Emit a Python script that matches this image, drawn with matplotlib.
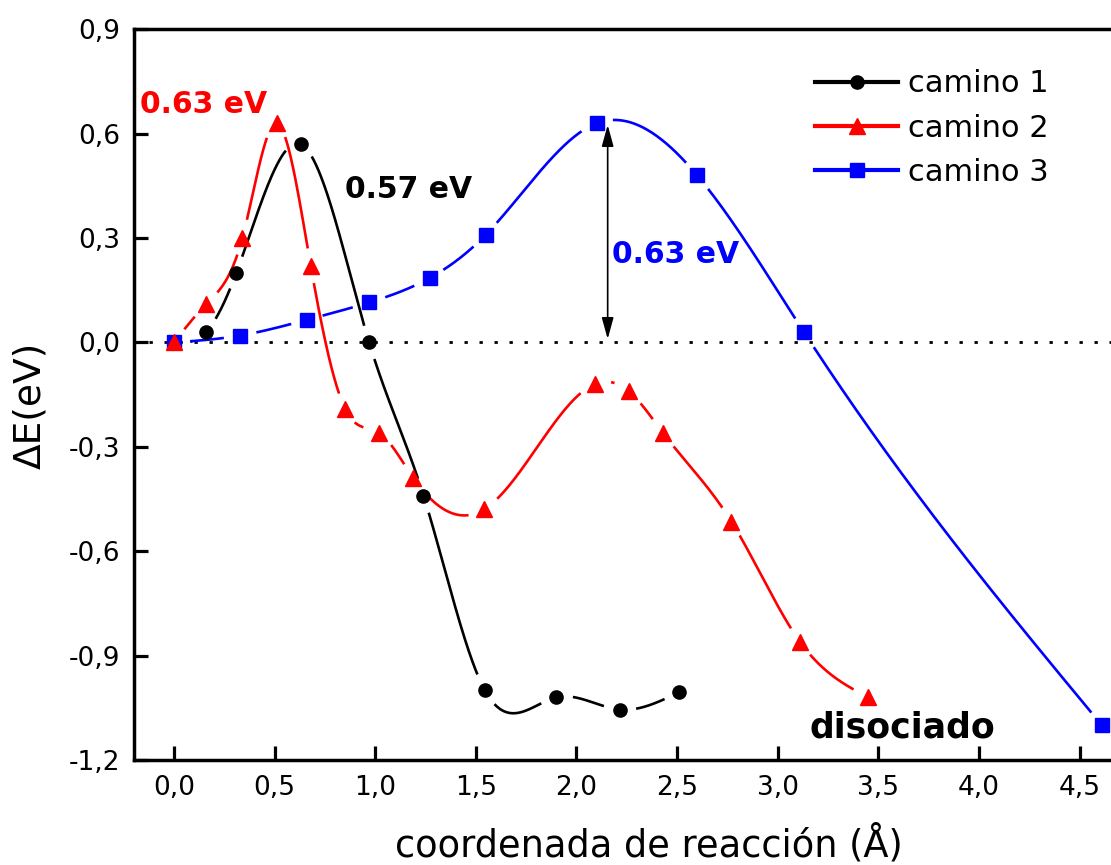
import numpy as np
import matplotlib
matplotlib.use("Agg")
import matplotlib.pyplot as plt
from matplotlib.lines import Line2D

# Reaction-coordinate energy profiles (Å, eV)
x1 = [0.0, 0.16, 0.31, 0.63, 0.97, 1.24, 1.545, 1.90, 2.215, 2.51]
y1 = [0.0, 0.03, 0.20, 0.57, 0.0, -0.44, -1.00, -1.02, -1.055, -1.005]

x2 = [0.0, 0.16, 0.34, 0.51, 0.68, 0.85, 1.02, 1.19, 1.54, 2.09, 2.26, 2.43, 2.77, 3.11, 3.45]
y2 = [0.0, 0.11, 0.30, 0.63, 0.22, -0.19, -0.26, -0.39, -0.48, -0.12, -0.14, -0.26, -0.515, -0.86, -1.02]

x3 = [0.0, 0.33, 0.66, 0.97, 1.27, 1.55, 2.10, 2.60, 3.13, 4.61]
y3 = [0.0, 0.02, 0.065, 0.115, 0.185, 0.31, 0.63, 0.48, 0.03, -1.10]

labels = ["camino 1", "camino 2", "camino 3"]
colors = ["#000000", "#FF0000", "#0000FF"]
markers = ["o", "^", "s"]
msizes = [9.5, 11.5, 9.5]

barrier_text = ["0.57 eV", "0.63 eV", "0.63 eV"]

xticks = [0.0, 0.5, 1.0, 1.5, 2.0, 2.5, 3.0, 3.5, 4.0, 4.5]
yticks = [-1.2, -0.9, -0.6, -0.3, 0.0, 0.3, 0.6, 0.9]


def natural_spline(x, y, n=800):
    x = np.asarray(x, float)
    y = np.asarray(y, float)
    k = len(x)
    h = np.diff(x)
    A = np.zeros((k, k))
    r = np.zeros(k)
    A[0, 0] = A[-1, -1] = 1.0
    for i in range(1, k - 1):
        A[i, i - 1] = h[i - 1]
        A[i, i] = 2 * (h[i - 1] + h[i])
        A[i, i + 1] = h[i]
        r[i] = 3 * ((y[i + 1] - y[i]) / h[i] - (y[i] - y[i - 1]) / h[i - 1])
    c = np.linalg.solve(A, r)
    b = (y[1:] - y[:-1]) / h - h * (2 * c[:-1] + c[1:]) / 3
    d = (c[1:] - c[:-1]) / (3 * h)
    xs = np.linspace(x[0], x[-1], n)
    idx = np.clip(np.searchsorted(x, xs, side="right") - 1, 0, k - 2)
    t = xs - x[idx]
    ys = y[idx] + b[idx] * t + c[idx] * t ** 2 + d[idx] * t ** 3
    return xs, ys


plt.rcParams["font.family"] = ["DejaVu Sans"]

fig = plt.figure(figsize=(11.11, 8.65), dpi=100)
ax = fig.add_axes([0.1203, 0.1214, 0.8968, 0.8447])
ax.set_xlim(-0.2, 4.75)
ax.set_ylim(-1.2, 0.9)

# zero reference line
ax.axhline(0.0, color="black", lw=2.0, ls=(0, (1.2, 4.2)), zorder=1)

series = [(x1, y1), (x2, y2), (x3, y3)]
gap_px = 16.0
trans = ax.transData
for (xs_d, ys_d), col, mk, ms, z in zip(series, colors, markers, msizes, [3.0, 3.2, 3.1]):
    xs, ys = natural_spline(xs_d, ys_d)
    pts = trans.transform(np.column_stack([xs, ys]))
    mpts = trans.transform(np.column_stack([xs_d, ys_d]))
    dist = np.min(np.hypot(pts[:, None, 0] - mpts[None, :, 0],
                           pts[:, None, 1] - mpts[None, :, 1]), axis=1)
    ys_masked = np.where(dist < gap_px, np.nan, ys)
    ax.plot(xs, ys_masked, color=col, lw=1.9, zorder=2, solid_capstyle="butt")
    ax.plot(xs_d, ys_d, ls="none", marker=mk, ms=ms, color=col, mec=col, zorder=z)

# barrier arrow for camino 3
ax.annotate("", xy=(2.155, 0.625), xytext=(2.155, 0.01),
            arrowprops=dict(arrowstyle="<|-|>,head_length=0.65,head_width=0.18",
                            color="black", lw=1.2, mutation_scale=20,
                            shrinkA=0, shrinkB=0), zorder=4)

ax.text(-0.17, 0.683, barrier_text[1], color=colors[1], fontsize=21.5,
        fontweight="bold", ha="left", va="center")
ax.text(0.85, 0.44, barrier_text[0], color=colors[0], fontsize=21.5,
        fontweight="bold", ha="left", va="center")
ax.text(2.176, 0.252, barrier_text[2], color=colors[2], fontsize=21.5,
        fontweight="bold", ha="left", va="center")
ax.text(3.16, -1.107, "disociado", color="black", fontsize=25,
        fontweight="bold", ha="left", va="center")

ax.set_xticks(xticks)
ax.set_xticklabels([f"{v:.1f}".replace(".", ",") for v in xticks])
ax.set_yticks(yticks)
ax.set_yticklabels([f"{v:.1f}".replace(".", ",") for v in yticks])
ax.tick_params(axis="both", which="major", direction="in", length=10, width=2.3,
               labelsize=19, top=False, right=False)
ax.tick_params(axis="x", pad=11)
ax.tick_params(axis="y", pad=10)

for side in ["left", "bottom", "top"]:
    ax.spines[side].set_linewidth(2.5)
ax.spines["right"].set_visible(False)

ax.set_xlabel("coordenada de reacción (Å)", fontsize=26.5)
ax.xaxis.set_label_coords(0.517, -0.116)
ax.xaxis.label.set_va("center")
ax.set_ylabel("ΔE(eV)", fontsize=27)
ax.yaxis.set_label_coords(-0.104, 0.486)
ax.yaxis.label.set_va("center")

handles = [Line2D([], [], color=c, lw=3, marker=m, ms=s, mec=c)
           for c, m, s in zip(colors, markers, msizes)]
leg = ax.legend(handles, labels, loc="upper left", bbox_to_anchor=(0.672, 0.962),
                frameon=False, fontsize=22, handlelength=2.7, handletextpad=0.33,
                labelspacing=0.5, borderaxespad=0)

fig.savefig("out.png", dpi=100)
